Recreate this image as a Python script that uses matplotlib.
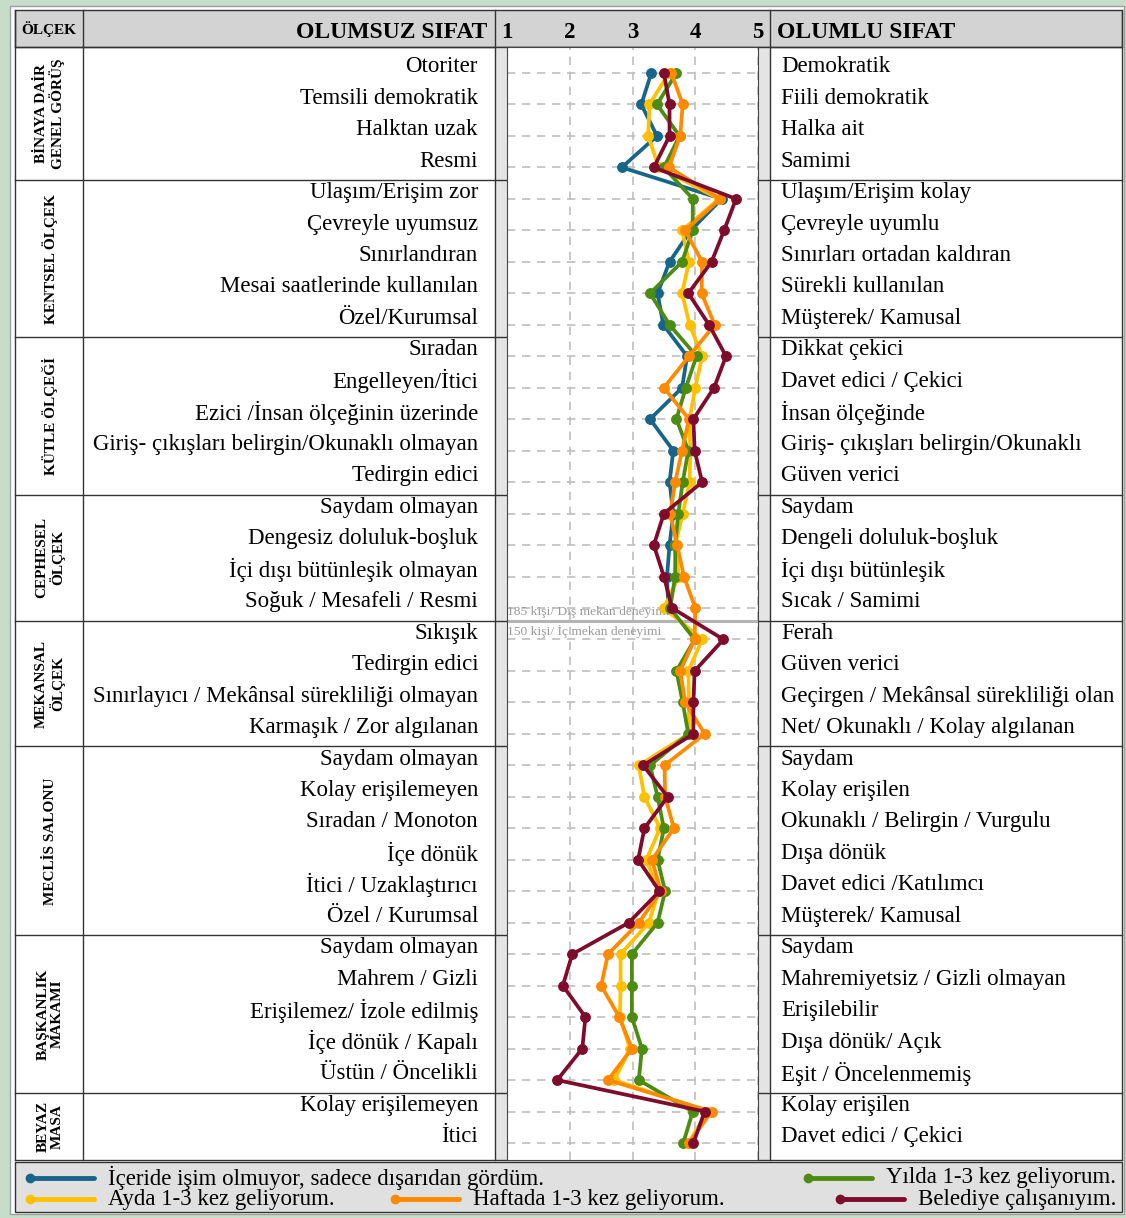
import numpy as np
import matplotlib.pyplot as plt
from matplotlib import transforms
from matplotlib.patches import Rectangle

plt.rcParams['font.family'] = ['Liberation Serif', 'DejaVu Serif']

# --- data ---------------------------------------------------------------
sections = ["BİNAYA DAİR\nGENEL GÖRÜŞ", "KENTSEL ÖLÇEK", "KÜTLE ÖLÇEĞİ",
            "CEPHESEL\nÖLÇEK", "MEKANSAL\nÖLÇEK", "MECLİS SALONU",
            "BAŞKANLIK\nMAKAMI", "BEYAZ\nMASA"]
section_sizes = [4, 5, 5, 4, 4, 6, 5, 2]

negative = ["Otoriter", "Temsili demokratik", "Halktan uzak", "Resmi",
            "Ulaşım/Erişim zor", "Çevreyle uyumsuz", "Sınırlandıran",
            "Mesai saatlerinde kullanılan", "Özel/Kurumsal",
            "Sıradan", "Engelleyen/İtici", "Ezici /İnsan ölçeğinin üzerinde",
            "Giriş- çıkışları belirgin/Okunaklı olmayan", "Tedirgin edici",
            "Saydam olmayan", "Dengesiz doluluk-boşluk",
            "İçi dışı bütünleşik olmayan", "Soğuk / Mesafeli / Resmi",
            "Sıkışık", "Tedirgin edici",
            "Sınırlayıcı / Mekânsal sürekliliği olmayan",
            "Karmaşık / Zor algılanan",
            "Saydam olmayan", "Kolay erişilemeyen", "Sıradan / Monoton",
            "İçe dönük", "İtici / Uzaklaştırıcı", "Özel / Kurumsal",
            "Saydam olmayan", "Mahrem / Gizli", "Erişilemez/ İzole edilmiş",
            "İçe dönük / Kapalı", "Üstün / Öncelikli",
            "Kolay erişilemeyen", "İtici"]

positive = ["Demokratik", "Fiili demokratik", "Halka ait", "Samimi",
            "Ulaşım/Erişim kolay", "Çevreyle uyumlu",
            "Sınırları ortadan kaldıran", "Sürekli kullanılan",
            "Müşterek/ Kamusal",
            "Dikkat çekici", "Davet edici / Çekici", "İnsan ölçeğinde",
            "Giriş- çıkışları belirgin/Okunaklı", "Güven verici",
            "Saydam", "Dengeli doluluk-boşluk", "İçi dışı bütünleşik",
            "Sıcak / Samimi",
            "Ferah", "Güven verici", "Geçirgen / Mekânsal sürekliliği olan",
            "Net/ Okunaklı / Kolay algılanan",
            "Saydam", "Kolay erişilen", "Okunaklı / Belirgin / Vurgulu",
            "Dışa dönük", "Davet edici /Katılımcı", "Müşterek/ Kamusal",
            "Saydam", "Mahremiyetsiz / Gizli olmayan", "Erişilebilir",
            "Dışa dönük/ Açık", "Eşit / Öncelenmemiş",
            "Kolay erişilen", "Davet edici / Çekici"]

# only the outside group answered the first 18 items
blue = [3.30, 3.14, 3.39, 2.83, 4.42, 3.93, 3.59, 3.40, 3.49,
        3.87, 3.79, 3.28, 3.65, 3.59, 3.65, 3.59, 3.55, 3.57]
yellow = [3.58, 3.27, 3.25, 3.42, 4.38, 3.79, 3.90, 3.79, 3.91,
          4.11, 4.00, 3.91, 3.92, 3.91, 3.80, 3.68, 3.74, 3.50,
          4.11, 3.89, 3.90, 3.90, 3.10, 3.19, 3.44, 3.22, 3.42, 3.26,
          2.81, 2.81, 2.80, 2.96, 2.71, 4.20, 3.89]
green = [3.70, 3.39, 3.75, 3.50, 3.96, 3.96, 3.79, 3.28, 3.59,
         4.02, 3.85, 3.70, 3.89, 3.80, 3.73, 3.68, 3.68, 3.60,
         3.99, 3.70, 3.80, 3.89, 3.28, 3.40, 3.50, 3.40, 3.52, 3.40,
         2.99, 2.99, 2.99, 3.15, 3.10, 3.96, 3.81]
orange = [3.62, 3.80, 3.76, 3.58, 4.40, 3.84, 4.11, 4.10, 4.31,
          3.90, 3.50, 3.90, 3.79, 3.68, 3.60, 3.71, 3.82, 4.00,
          3.99, 3.76, 3.84, 4.15, 3.51, 3.52, 3.66, 3.31, 3.45, 3.10,
          2.61, 2.50, 2.79, 2.99, 2.61, 4.26, 3.90]
red = [3.50, 3.59, 3.59, 3.34, 4.65, 4.46, 4.26, 3.89, 4.22,
       4.49, 4.30, 3.97, 3.99, 4.11, 3.50, 3.34, 3.50, 3.63,
       4.45, 3.99, 3.97, 3.97, 3.17, 3.56, 3.19, 3.09, 3.43, 2.94,
       2.04, 1.89, 2.25, 2.20, 1.80, 4.15, 3.97]

legend_labels = ["İçeride işim olmuyor, sadece dışarıdan gördüm.",
                 "Ayda 1-3 kez geliyorum.", "Yılda 1-3 kez geliyorum.",
                 "Haftada 1-3 kez geliyorum.", "Belediye çalışanıyım."]
scale_ticks = [1, 2, 3, 4, 5]

C_BLUE, C_YELLOW, C_GREEN, C_ORANGE, C_RED = \
    '#17668a', '#ffc000', '#4d8c12', '#ff8a00', '#7f0c2c'

# --- canvas -------------------------------------------------------------
W, H = 1126, 1218
fig = plt.figure(figsize=(W / 100, H / 100), dpi=100, facecolor='#c8dcca')
bg = fig.add_axes([0, 0, 1, 1], zorder=0)
bg.set_xlim(0, W)
bg.set_ylim(H, 0)
bg.axis('off')

L, R = 15, 1122          # table outer edges
c1, c2, c3 = 83, 495, 770  # column borders
px0, px1 = 507, 758      # plot area
top, bottom = 47, 1160
row0, step = 73, 31.47

bg.add_patch(Rectangle((10, 6), W - 12, H - 10, fc='white', ec='#9aa39a', lw=1))
bg.add_patch(Rectangle((L, 10), R - L, top - 10, fc='#d3d3d3', ec='#333', lw=1))
bg.add_patch(Rectangle((c2, top), px0 - c2, bottom - top, fc='#e4e4e4', ec='none'))
bg.add_patch(Rectangle((px1, top), c3 - px1, bottom - top, fc='#e4e4e4', ec='none'))
bg.add_patch(Rectangle((L, bottom + 2), R - L, 1212 - bottom - 2, fc='#e0e0e0', ec='#333', lw=1))
for x in (L, c1, c2, c3, R):
    bg.plot([x, x], [10, bottom], color='#333', lw=1)
bg.plot([L, R], [top, top], color='#333', lw=1)
bg.plot([L, R], [bottom, bottom], color='#333', lw=1)

# --- profile plot -------------------------------------------------------
ax = fig.add_axes([px0 / W, 1 - bottom / H, (px1 - px0) / W, (bottom - top) / H], zorder=2)
ax.set_xlim(1, 5)
ax.set_ylim((bottom - row0) / step, (top - row0) / step)
ax.set_xticks(scale_ticks)
ax.set_yticks(np.arange(len(negative)))
ax.grid(True, ls=(0, (5, 4)), color='#bfbfbf', lw=1.2)
ax.set_axisbelow(True)
ax.tick_params(axis='y', length=0, labelleft=False)
ax.tick_params(axis='x', length=0, bottom=False, labelbottom=False,
               top=True, labeltop=True, pad=3, labelsize=16.5)
for lab in ax.get_xticklabels():
    lab.set_fontweight('bold')
for s in ax.spines.values():
    s.set_color('#444')

for vals, col in [(blue, C_BLUE), (yellow, C_YELLOW), (green, C_GREEN),
                  (orange, C_ORANGE), (red, C_RED)]:
    ax.plot(vals, np.arange(len(vals)), color=col, lw=2.7, marker='o',
            ms=6.8, solid_joinstyle='round', zorder=3)

# split between outside / inside respondents
ax.axhline(17.42, color='#b4b4b4', lw=2.2, zorder=1)
ax.text(1.0, 17.13, "185 kişi/ Dış mekan deneyimi", color='#999999',
        fontsize=9.7, va='center', zorder=1)
ax.text(1.0, 17.73, "150 kişi/ İç mekan deneyimi", color='#999999',
        fontsize=9.7, va='center', zorder=1)

# --- table text ---------------------------------------------------------
rows = transforms.blended_transform_factory(bg.transData, ax.transData)
for i, (neg, pos) in enumerate(zip(negative, positive)):
    bg.text(478, i - 0.2, neg, transform=rows, ha='right', va='center', fontsize=16.5)
    bg.text(781, i - 0.2, pos, transform=rows, ha='left', va='center', fontsize=16.5)

start = 0
for name, n in zip(sections, section_sizes):
    b0, b1 = start - 0.6, start + n - 0.6
    mid = (b0 + b1) / 2
    if start == 0:
        mid = ((top - row0) / step + b1) / 2
    if start + n == len(negative):
        mid = (b0 + (bottom - row0) / step) / 2
    bg.text(50, mid, name, transform=rows, rotation=90, ha='center', va='center',
            fontsize=11, fontweight='bold', linespacing=1.1, multialignment='center')
    if start + n < len(negative):
        bg.plot([L, px0], [b1, b1], transform=rows, color='#333', lw=1)
        bg.plot([px1, R], [b1, b1], transform=rows, color='#333', lw=1)
    start += n

bg.text(49, 29, "ÖLÇEK", ha='center', va='center', fontsize=11, fontweight='bold')
bg.text(487, 32, "OLUMSUZ SIFAT", ha='right', va='center', fontsize=17, fontweight='bold')
bg.text(777, 32, "OLUMLU SIFAT", ha='left', va='center', fontsize=17, fontweight='bold')

# --- legend -------------------------------------------------------------
legend_pos = [(30, 1178), (30, 1199), (808, 1178), (395, 1199), (840, 1199)]
for (x, y), col, lab in zip(legend_pos, [C_BLUE, C_YELLOW, C_GREEN, C_ORANGE, C_RED],
                            legend_labels):
    bg.plot([x, x + 64], [y, y], color=col, lw=3.5, solid_capstyle='round')
    bg.plot([x], [y], 'o', color=col, ms=6)
    bg.text(x + 78, y, lab, ha='left', va='center', fontsize=16.5)

fig.savefig('out.png', dpi=100, facecolor=fig.get_facecolor())
